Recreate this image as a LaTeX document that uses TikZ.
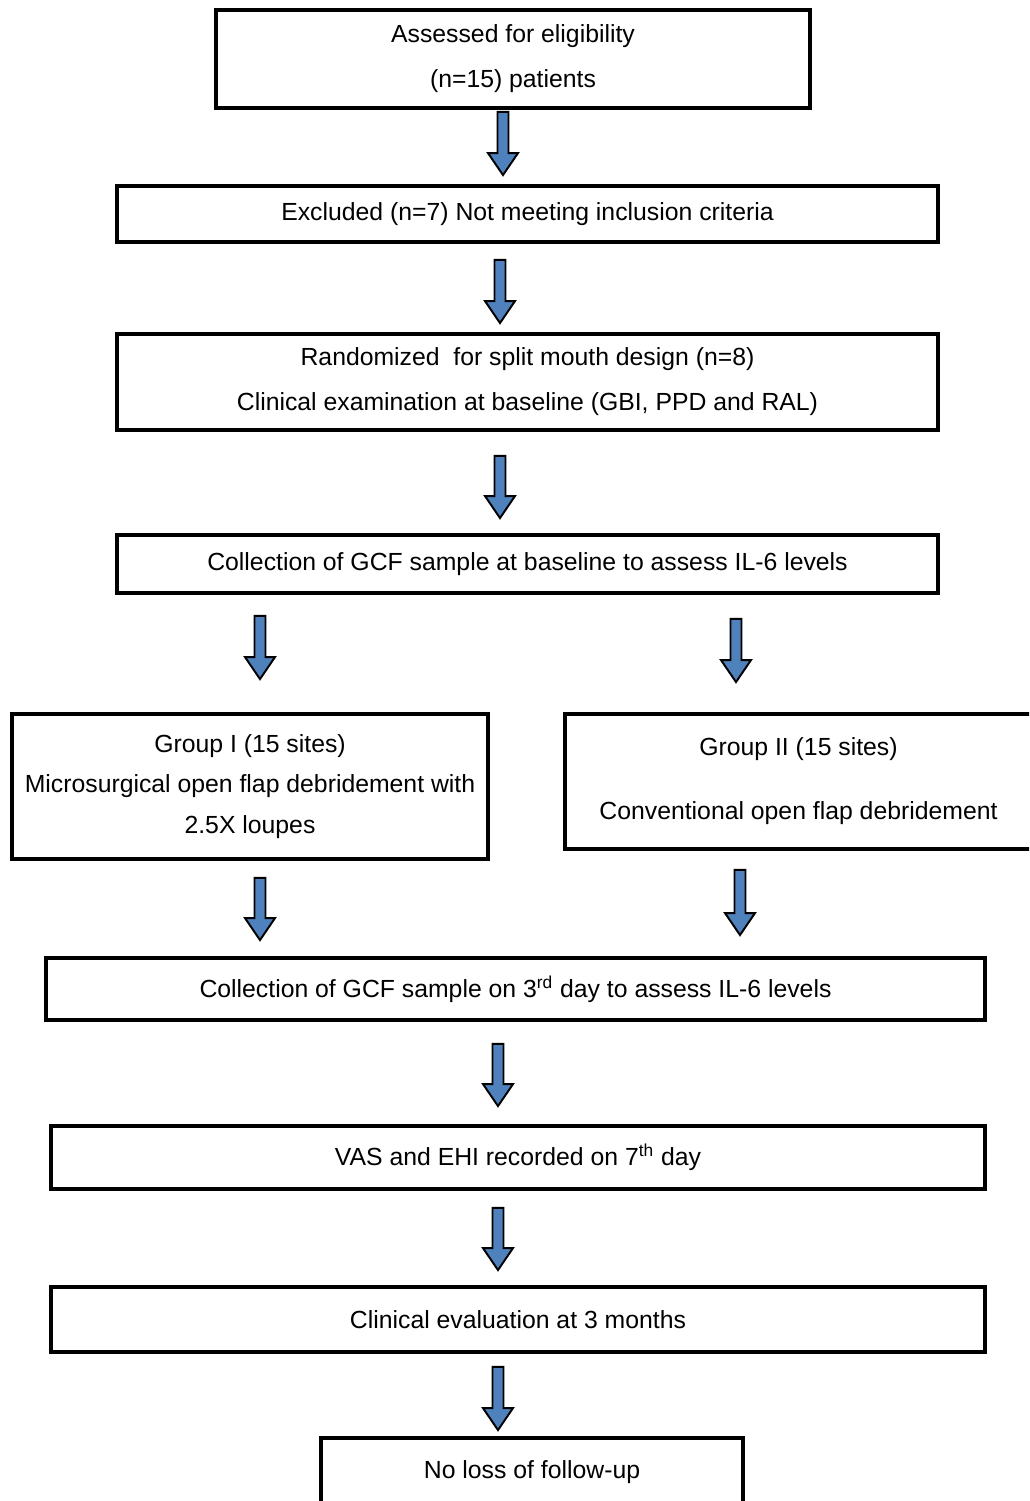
\documentclass[tikz,border=0pt]{standalone}
\usepackage{fontspec}
\setmainfont{Liberation Sans}
\usepackage{tikz}
\usetikzlibrary{calc,positioning}

\definecolor{arrowblue}{RGB}{79,129,189}
\newcommand{\shaftw}{0.11cm}
\newcommand{\headw}{0.30cm}
\newcommand{\headl}{0.44cm}

\begin{document}
\begin{tikzpicture}[font=\fontsize{14.1}{25.6}\selectfont]
	\tikzstyle{box} = [draw, rectangle, line width=2.2pt, align=center, inner sep=0pt]
	\tikzset{gaptop/.store in=\gaptop, gapbot/.store in=\gapbot, gaptop=0.05cm, gapbot=0.2cm}
	\tikzstyle{flowarrow} = [draw=black, fill=arrowblue, line width=1.1pt, line join=miter,
		to path={let \p1=(\tikztostart), \p2=(\tikztotarget) in
			(\x1-\shaftw,\y1-\gaptop) -- (\x1+\shaftw,\y1-\gaptop) -- (\x1+\shaftw,\y2+\gapbot+\headl)
			-- (\x1+\headw,\y2+\gapbot+\headl) -- (\x1,\y2+\gapbot) -- (\x1-\headw,\y2+\gapbot+\headl)
			-- (\x1-\shaftw,\y2+\gapbot+\headl) -- cycle}]
	
	\useasboundingbox (0,0) rectangle (20.58,-30.02);
	\clip (0,0) rectangle (20.58,-30.02);
	
	\node[box, minimum width=11.88cm, minimum height=1.96cm] (assess) at (10.26,-1.18) {Assessed for eligibility\\(n=15) patients};
	\node[box, minimum width=16.42cm, minimum height=1.12cm] (excl) at (10.55,-4.28) {Excluded (n=7) Not meeting inclusion criteria};
	\node[box, minimum width=16.42cm, minimum height=1.92cm] (rand) at (10.55,-7.64) {Randomized~ for split mouth design (n=8)\\Clinical examination at baseline (GBI, PPD and RAL)};
	\node[box, minimum width=16.42cm, minimum height=1.16cm] (gcfbase) at (10.55,-11.28) {Collection of GCF sample at baseline to assess IL-6 levels};
	
	\node[box, minimum width=9.52cm, minimum height=2.90cm, font=\fontsize{14.1}{23}\selectfont] (groupi) at (5.00,-15.73) {Group I (15 sites)\\Microsurgical open flap debridement with\\2.5X loupes};
	\node[box, minimum width=9.34cm, minimum height=2.70cm, font=\fontsize{14.1}{36.4}\selectfont] (groupii) at (15.97,-15.63) {Group II (15 sites)\\Conventional open flap debridement};
	
	\node[box, minimum width=18.78cm, minimum height=1.24cm] (gcfday3) at (10.31,-19.78) {Collection of GCF sample on 3\textsuperscript{rd} day to assess IL-6 levels};
	\node[box, minimum width=18.68cm, minimum height=1.26cm] (vas) at (10.36,-23.15) {VAS and EHI recorded on 7\textsuperscript{th} day};
	\node[box, minimum width=18.68cm, minimum height=1.30cm] (clin) at (10.36,-26.39) {Clinical evaluation at 3 months};
	\node[box, minimum width=8.44cm, minimum height=1.36cm] (noloss) at (10.64,-29.44) {No loss of follow-up};
	
	% arrow columns
	\coordinate (c1) at (10.06,0);
	\coordinate (c2) at (10.00,0);
	\coordinate (cl) at (5.20,0);
	\coordinate (cr) at (14.72,0);
	\coordinate (cr2) at (14.80,0);
	\coordinate (c3) at (9.96,0);
	
	\draw[flowarrow, gaptop=0.04cm, gapbot=0.18cm] (assess.south -| c1) to (excl.north -| c1);
	\draw[flowarrow, gaptop=0.32cm, gapbot=0.18cm] (excl.south -| c2) to (rand.north -| c2);
	\draw[flowarrow, gaptop=0.48cm, gapbot=0.30cm] (rand.south -| c2) to (gcfbase.north -| c2);
	\draw[flowarrow, gaptop=0.42cm, gapbot=0.66cm] (gcfbase.south -| cl) to (groupi.north -| cl);
	\draw[flowarrow, gaptop=0.48cm, gapbot=0.60cm] (gcfbase.south -| cr) to (groupii.north -| cr);
	\draw[flowarrow, gaptop=0.34cm, gapbot=0.32cm] (groupi.south -| cl) to (gcfday3.north -| cl);
	\draw[flowarrow, gaptop=0.38cm, gapbot=0.42cm] (groupii.south -| cr2) to (gcfday3.north -| cr2);
	\draw[flowarrow, gaptop=0.44cm, gapbot=0.36cm] (gcfday3.south -| c3) to (vas.north -| c3);
	\draw[flowarrow, gaptop=0.34cm, gapbot=0.30cm] (vas.south -| c3) to (clin.north -| c3);
	\draw[flowarrow, gaptop=0.26cm, gapbot=0.12cm] (clin.south -| c3) to (noloss.north -| c3);
	
\end{tikzpicture}
\end{document}
